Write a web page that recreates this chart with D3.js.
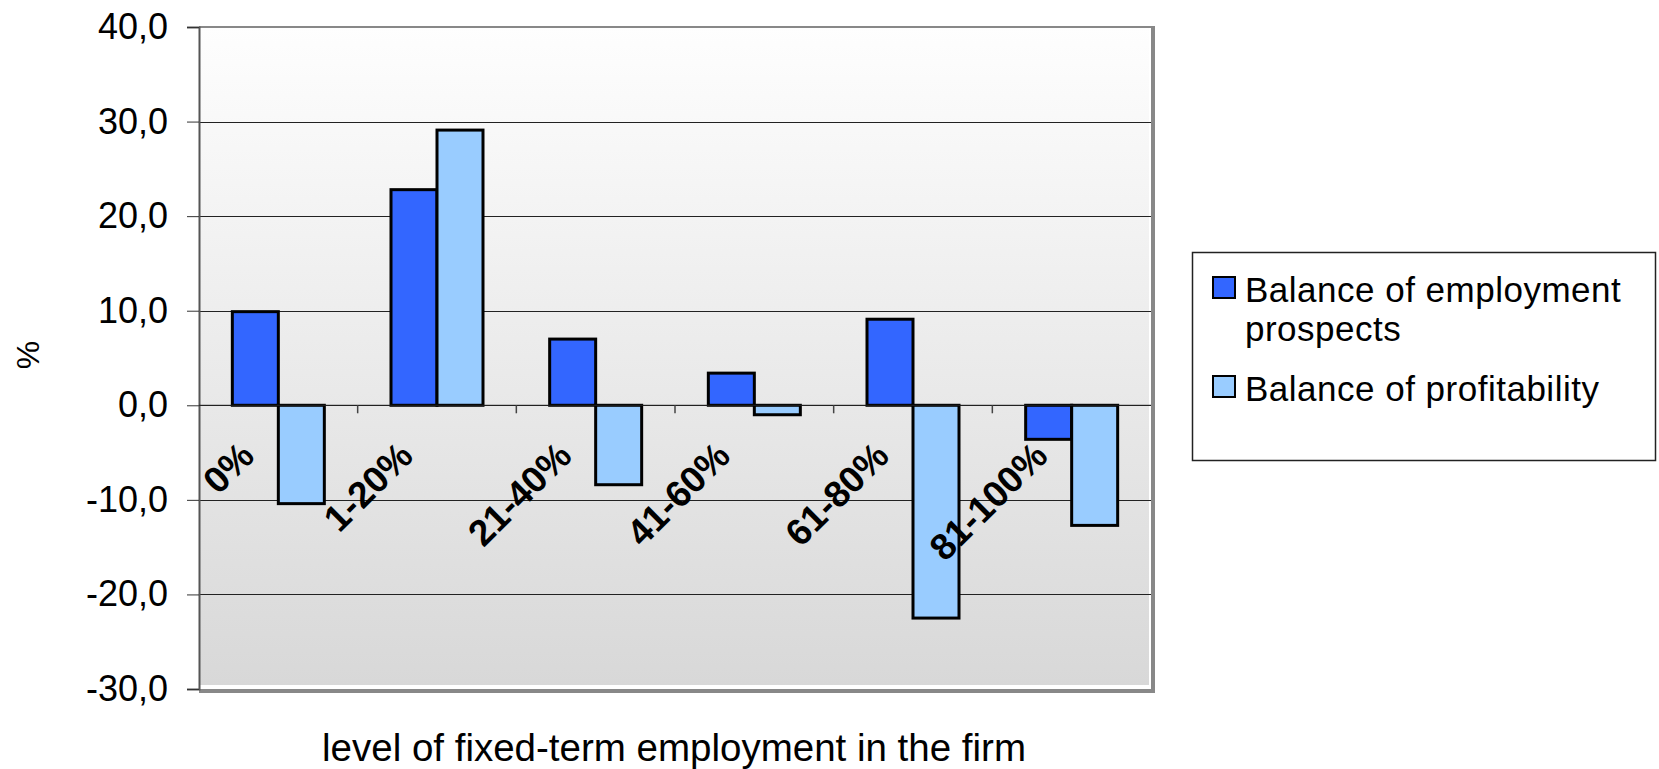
<!DOCTYPE html>
<html>
<head>
<meta charset="utf-8">
<script src="https://cdn.jsdelivr.net/npm/d3@7"></script>
<style>
  body { margin: 0; background: #fff; }
  svg { display: block; font-family: "Liberation Sans", Arial, sans-serif; }
</style>
</head>
<body>
<svg id="chart" width="1659" height="769"></svg>
<script>
// data
const categories = ["0%", "1-20%", "21-40%", "41-60%", "61-80%", "81-100%"];
const employmentProspects = [9.9, 22.8, 7.0, 3.4, 9.1, -3.6];
const profitability = [-10.4, 29.1, -8.4, -1.0, -22.5, -12.7];
const seriesNames = ["Balance of employment prospects", "Balance of profitability"];
const seriesColors = ["#3366ff", "#99ccff"];
const yTicks = [-30, -20, -10, 0, 10, 20, 30, 40];

const svg = d3.select("#chart");

// plot area (not "top" - that one is taken by window)
const plot = {left: 199, right: 1151, top: 27, bottom: 689};

const x = d3.scaleBand().domain(categories).range([plot.left, plot.right]);
const y = d3.scaleLinear().domain([-30, 40]).range([plot.bottom, plot.top]);
const barW = 46;

// grey gradient background
const defs = svg.append("defs");
const grad = defs.append("linearGradient")
  .attr("id", "bg").attr("x1", 0).attr("y1", 0).attr("x2", 0).attr("y2", 1);
grad.append("stop").attr("offset", "0%").attr("stop-color", "#fefefe");
grad.append("stop").attr("offset", "100%").attr("stop-color", "#d8d8d8");

// border shadow on the right and bottom
svg.append("path")
  .attr("d", `M${plot.right + 2},${plot.top} V${plot.bottom + 2} H${plot.left}`)
  .attr("fill", "none")
  .attr("stroke", "#888")
  .attr("stroke-width", 4);

svg.append("rect")
  .attr("x", plot.left).attr("y", plot.top)
  .attr("width", plot.right - plot.left - 2).attr("height", plot.bottom - plot.top - 4)
  .attr("fill", "url(#bg)");

svg.append("line")
  .attr("x1", plot.left).attr("x2", plot.right + 4)
  .attr("y1", plot.top).attr("y2", plot.top)
  .attr("stroke", "#888").attr("stroke-width", 2);

// horizontal gridlines
svg.append("g")
  .selectAll("line")
  .data(yTicks.filter(d => d > -30 && d < 40))
  .join("line")
  .attr("x1", plot.left).attr("x2", plot.right)
  .attr("y1", d => Math.round(y(d)) + 0.5).attr("y2", d => Math.round(y(d)) + 0.5)
  .attr("stroke", "#222").attr("stroke-width", 1);

// y axis - comma decimals and a plain hyphen for minus
const locale = d3.formatLocale({decimal: ",", thousands: ".", grouping: [3], currency: ["", ""], minus: "-"});
const fmt = locale.format(".1f");
const yAxis = svg.append("g")
  .attr("transform", `translate(${plot.left},0)`)
  .call(d3.axisLeft(y).tickValues(yTicks).tickFormat(fmt).tickSize(12).tickPadding(19));
yAxis.select(".domain").attr("stroke", "#555").attr("stroke-width", 2);
yAxis.selectAll(".tick line").attr("stroke", "#333");
yAxis.selectAll(".tick text")
  .attr("font-size", 36).attr("fill", "#000")
  .attr("font-family", "Liberation Sans, Arial, sans-serif");

// bars
const groups = svg.append("g")
  .selectAll("g")
  .data(categories.map((c, i) => ({c, vals: [employmentProspects[i], profitability[i]]})))
  .join("g");

groups.selectAll("rect")
  .data(d => d.vals.map((v, s) => ({c: d.c, v, s})))
  .join("rect")
  .attr("x", d => x(d.c) + x.bandwidth() / 2 - barW + d.s * barW)
  .attr("y", d => y(Math.max(0, d.v)))
  .attr("width", barW)
  .attr("height", d => Math.abs(y(d.v) - y(0)))
  .attr("fill", d => seriesColors[d.s])
  .attr("stroke", "#000")
  .attr("stroke-width", 3);

// category axis along zero
svg.append("line")
  .attr("x1", plot.left).attr("x2", plot.right)
  .attr("y1", y(0)).attr("y2", y(0))
  .attr("stroke", "#222").attr("stroke-width", 1);
svg.append("g")
  .selectAll("line")
  .data(categories.slice(1))
  .join("line")
  .attr("x1", d => x(d)).attr("x2", d => x(d))
  .attr("y1", y(0)).attr("y2", y(0) + 8)
  .attr("stroke", "#444").attr("stroke-width", 1.5);

// rotated category labels
svg.append("g")
  .selectAll("text")
  .data(categories)
  .join("text")
  .attr("transform", d => `translate(${x(d) + x.bandwidth() / 2 - 22},458) rotate(-45)`)
  .attr("text-anchor", "end")
  .attr("font-size", 37)
  .attr("font-weight", "bold")
  .text(d => d);

// axis titles
svg.append("text")
  .attr("transform", "translate(39,355) rotate(-90)")
  .attr("text-anchor", "middle")
  .attr("font-size", 32)
  .text("%");

svg.append("text")
  .attr("x", 674).attr("y", 761)
  .attr("text-anchor", "middle")
  .attr("font-size", 38.5)
  .text("level of fixed-term employment in the firm");

// legend
const legend = svg.append("g");
legend.append("rect")
  .attr("x", 1192.5).attr("y", 252.5)
  .attr("width", 463).attr("height", 208)
  .attr("fill", "#fff").attr("stroke", "#222").attr("stroke-width", 1.5);

const legendLines = [["Balance of employment", "prospects"], ["Balance of profitability"]];
const legendY = [298, 397];

const items = legend.selectAll(".item")
  .data(seriesNames)
  .join("g")
  .attr("class", "item")
  .attr("transform", (d, i) => `translate(1213,${legendY[i]})`);

items.append("rect")
  .attr("x", 0).attr("y", -21)
  .attr("width", 22).attr("height", 21)
  .attr("fill", (d, i) => seriesColors[i])
  .attr("stroke", "#000").attr("stroke-width", 2);

items.append("text")
  .attr("font-size", 35)
  .attr("letter-spacing", 0.5)
  .attr("y", 4)
  .selectAll("tspan")
  .data((d, i) => legendLines[i])
  .join("tspan")
  .attr("x", 32)
  .attr("dy", (d, j) => j === 0 ? 0 : 39)
  .text(d => d);
</script>
</body>
</html>
